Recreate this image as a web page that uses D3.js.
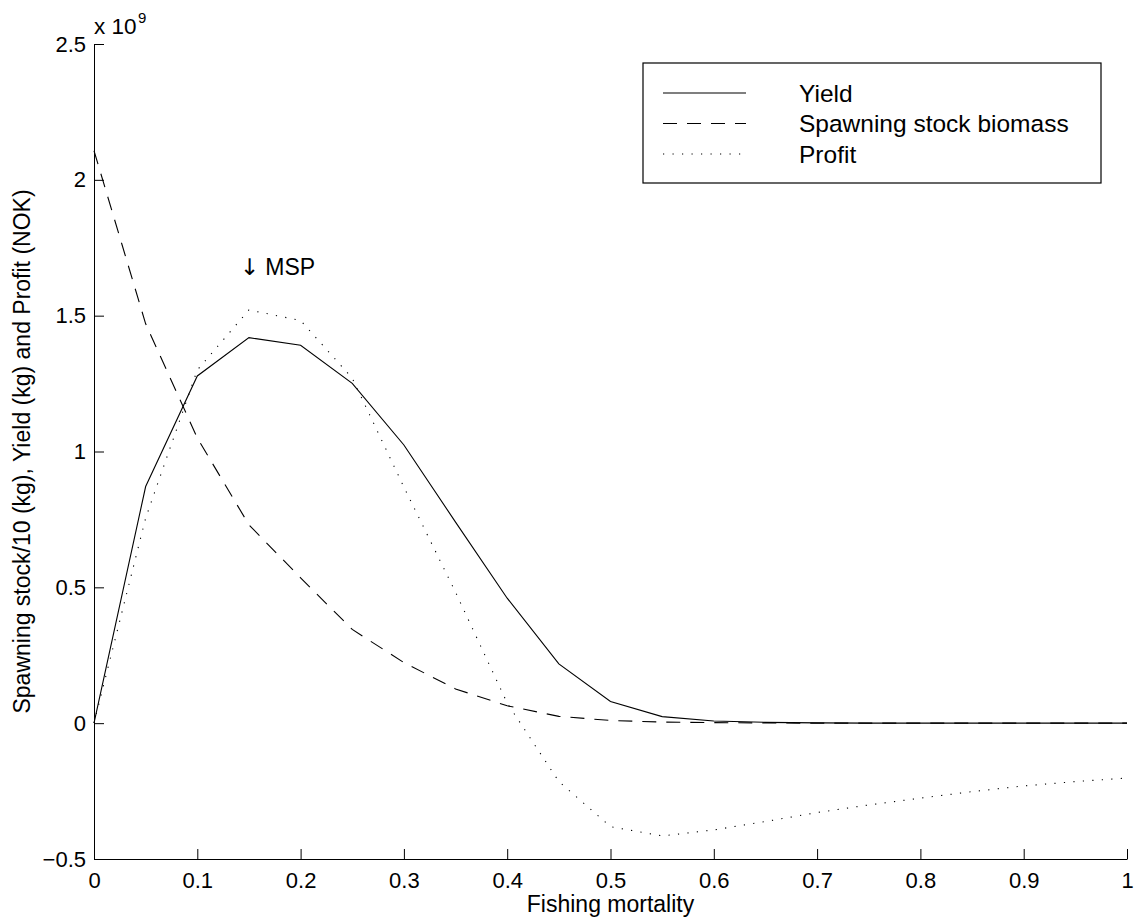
<!DOCTYPE html>
<html>
<head>
<meta charset="utf-8">
<script src="https://cdn.jsdelivr.net/npm/d3@7"></script>
<style>
  body { margin: 0; background: #fff; }
  svg { display: block; font-family: "Liberation Sans", Arial, Helvetica, sans-serif; }
  .axis path, .axis line { stroke: #000; }
  .axis text { font-size: 22px; fill: #000; }
</style>
</head>
<body>
<div id="chart"></div>
<script>
// fishing mortality (x)
var mortality = [0, 0.05, 0.1, 0.15, 0.2, 0.25, 0.3, 0.35, 0.4, 0.45, 0.5,
                 0.55, 0.6, 0.65, 0.7, 0.75, 0.8, 0.85, 0.9, 0.95, 1];
// values in units of 1e9
var yieldVals = [0, 0.871, 1.278, 1.419, 1.391, 1.251, 1.024, 0.74, 0.46, 0.218, 0.08,
                 0.024, 0.008, 0.003, 0.001, 0, 0, 0, 0, 0, 0];
var ssbVals = [2.107, 1.47, 1.05, 0.73, 0.535, 0.345, 0.223, 0.126, 0.064, 0.025, 0.01,
               0.004, 0.002, 0.001, 0, 0, 0, 0, 0, 0, 0];
var profitVals = [0, 0.755, 1.30, 1.521, 1.482, 1.27, 0.869, 0.482, 0.074, -0.215, -0.381,
                  -0.415, -0.393, -0.362, -0.329, -0.301, -0.276, -0.252, -0.231, -0.215, -0.202];

var xTicks = [0, 0.1, 0.2, 0.3, 0.4, 0.5, 0.6, 0.7, 0.8, 0.9, 1];
var yTicks = [-0.5, 0, 0.5, 1, 1.5, 2, 2.5];

var series = [
  { name: 'Yield', values: yieldVals, dash: null },
  { name: 'Spawning stock biomass', values: ssbVals, dash: '14,10' },
  { name: 'Profit', values: profitVals, dash: '1.2,8.3' }
];

var W = 1134, H = 923;
var margin = { top: 44, right: 7, bottom: 64, left: 94 };
var width = W - margin.left - margin.right,
    height = H - margin.top - margin.bottom;

var svg = d3.select('#chart').append('svg')
  .attr('width', W)
  .attr('height', H);

var g = svg.append('g')
  .attr('transform', 'translate(' + margin.left + ',' + margin.top + ')');

var x = d3.scaleLinear().domain([0, 1]).range([0, width]);
var y = d3.scaleLinear().domain([-0.5, 2.5]).range([height, 0]);

var fmt = d3.format('~g');

// axes, ticks pointing inward
g.append('g').attr('class', 'x axis')
  .attr('transform', 'translate(0,' + height + ')')
  .call(d3.axisBottom(x).tickValues(xTicks).tickFormat(fmt)
    .tickSizeInner(-10).tickSizeOuter(0).tickPadding(13));

g.append('g').attr('class', 'y axis')
  .call(d3.axisLeft(y).tickValues(yTicks).tickFormat(fmt)
    .tickSizeInner(-10).tickSizeOuter(0).tickPadding(8));

// lines
var line = d3.line()
  .x(function(d, i) { return x(mortality[i]); })
  .y(function(d) { return y(d); });

series.forEach(function(s) {
  g.append('path')
    .datum(s.values)
    .attr('d', line)
    .attr('fill', 'none')
    .attr('stroke', '#000')
    .attr('stroke-width', 1.1)
    .attr('stroke-dasharray', s.dash);
});

// MSP annotation
var msp = g.append('text')
  .attr('x', x(0.141))
  .attr('y', y(1.65))
  .attr('font-size', 23);
msp.append('tspan').attr('font-family', '"DejaVu Sans"').text('\u2193');
msp.append('tspan').text(' MSP');

// exponent label
svg.append('text')
  .attr('x', margin.left)
  .attr('y', 34)
  .attr('font-size', 22.5)
  .text('x 10');
svg.append('text')
  .attr('x', margin.left + 44)
  .attr('y', 23)
  .attr('font-size', 15)
  .text('9');

// axis titles
svg.append('text')
  .attr('x', margin.left + width / 2)
  .attr('y', 912)
  .attr('text-anchor', 'middle')
  .attr('font-size', 23)
  .text('Fishing mortality');

svg.append('text')
  .attr('transform', 'translate(30,' + (margin.top + height / 2) + ') rotate(-90)')
  .attr('text-anchor', 'middle')
  .attr('font-size', 23)
  .text('Spawning stock/10 (kg), Yield (kg) and Profit (NOK)');

// legend
var legend = svg.append('g').attr('transform', 'translate(643,63)');
legend.append('rect')
  .attr('width', 458).attr('height', 120)
  .attr('fill', '#fff').attr('stroke', '#000').attr('stroke-width', 1.2);

series.forEach(function(s, i) {
  var ly = 30 + i * 30.5;
  legend.append('line')
    .attr('x1', 20).attr('x2', 103)
    .attr('y1', ly).attr('y2', ly)
    .attr('stroke', '#000').attr('stroke-width', 1.1)
    .attr('stroke-dasharray', s.dash);
  legend.append('text')
    .attr('x', 156).attr('y', ly)
    .attr('dy', '0.36em')
    .attr('font-size', 24.5)
    .text(s.name);
});
</script>
</body>
</html>
